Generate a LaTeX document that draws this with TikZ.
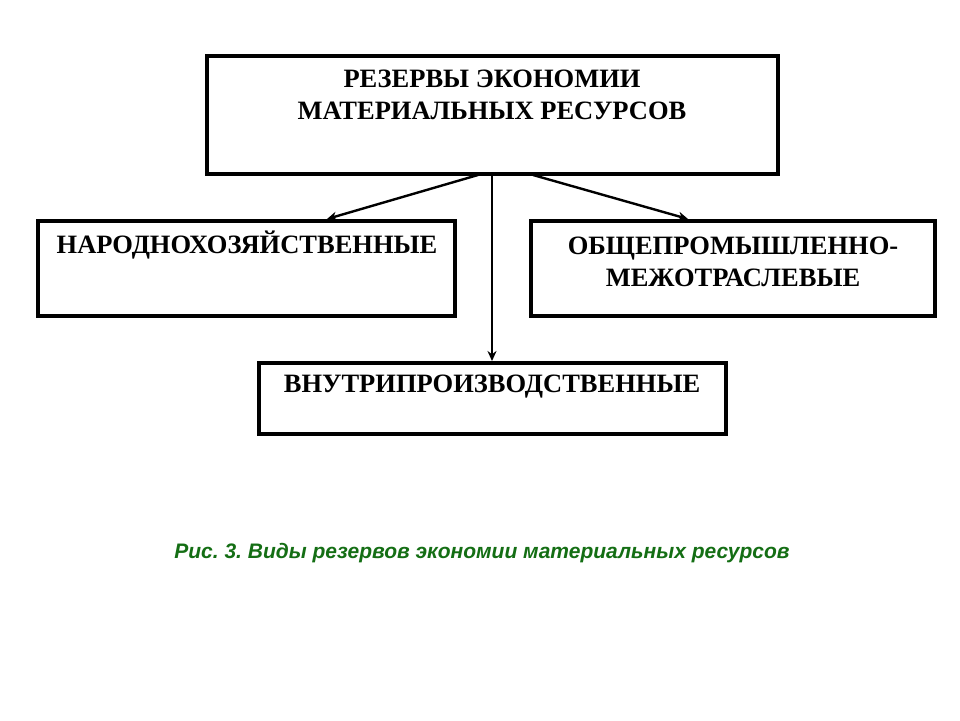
\documentclass[tikz,border=0pt]{standalone}
\usepackage{fontspec}
\setmainfont{Liberation Serif}
\newfontfamily\capfont{Liberation Sans}
\usetikzlibrary{arrows.meta}
\definecolor{capgreen}{RGB}{20,110,20}
\frenchspacing
\begin{document}
\begin{tikzpicture}[x=1pt,y=-1pt,
  boxstyle/.style={draw=black,line width=3.5pt,fill=white},
  lbl/.style={font=\fontsize{26.5}{32}\selectfont\bfseries,align=center,inner sep=0pt},
  conn/.style={line width=2.4pt,-{Stealth[length=10pt,width=9pt]}}]
\useasboundingbox (0,0) rectangle (960,720);
% boxes
\draw[boxstyle] (207,56) rectangle (778,174);
\draw[boxstyle] (38,221) rectangle (455,316);
\draw[boxstyle] (531,221) rectangle (935,316);
\draw[boxstyle] (259,363) rectangle (726,434);
\coordinate (topL) at (478,175);
\coordinate (topM) at (492,175);
\coordinate (topR) at (533,175);
\coordinate (leftT) at (327,219);
\coordinate (rightT) at (688,219);
\coordinate (botT) at (492,361);
% labels
\node[lbl] (top) at (492,95) {РЕЗЕРВЫ ЭКОНОМИИ\\МАТЕРИАЛЬНЫХ РЕСУРСОВ};
\node[lbl] (left) at (247,245) {НАРОДНОХОЗЯЙСТВЕННЫЕ};
\node[lbl] (right) at (733,262) {ОБЩЕПРОМЫШЛЕННО-\\МЕЖОТРАСЛЕВЫЕ};
\node[lbl] (bot) at (492,387) {ВНУТРИПРОИЗВОДСТВЕННЫЕ};
% connectors
\draw[conn] (topL) -- (leftT);
\draw[conn] (topR) -- (rightT);
\draw[conn] (topM) -- (botT);
% caption
\node[font=\capfont\fontsize{21}{24}\selectfont\bfseries\itshape,text=capgreen,inner sep=0pt] (cap) at (482,553) {Рис. 3. Виды резервов экономии материальных ресурсов};
\end{tikzpicture}
\end{document}
